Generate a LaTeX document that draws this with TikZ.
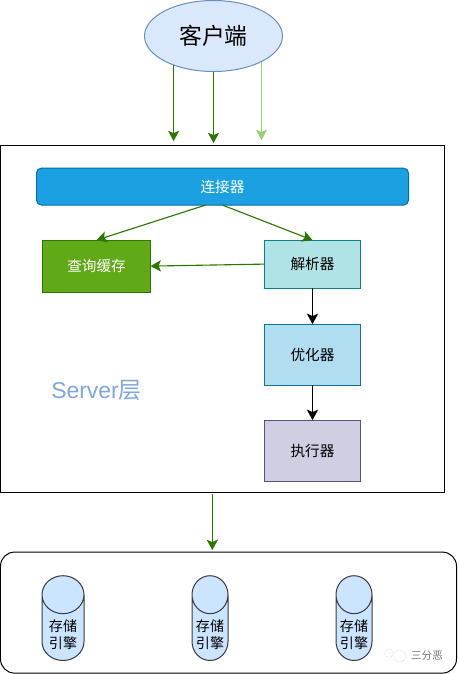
\documentclass[tikz,border=0pt]{standalone}
\usepackage{fontspec}
\setmainfont{Noto Sans CJK SC}
\newfontfamily\latinfont{Liberation Sans}
\usepackage{xcolor}
\usetikzlibrary{arrows.meta,positioning,calc,shapes.geometric}
\definecolor{srvgreen}{HTML}{2D7600}
\definecolor{srvgreenfill}{HTML}{60A917}
\definecolor{srvlightgreen}{HTML}{97D077}
\definecolor{srvblue}{HTML}{006EAF}
\definecolor{srvbluefill}{HTML}{1BA1E2}
\definecolor{srvteal}{HTML}{0E8088}
\definecolor{srvtealfill}{HTML}{B0E3E6}
\definecolor{srvsky}{HTML}{10739E}
\definecolor{srvskyfill}{HTML}{B1DDF0}
\definecolor{srvpurple}{HTML}{56517E}
\definecolor{srvpurplefill}{HTML}{D0CEE2}
\definecolor{clientline}{HTML}{6C8EBF}
\definecolor{clientfill}{HTML}{DAE8FC}
\definecolor{storeline}{HTML}{36393D}
\definecolor{storefill}{HTML}{CCE5FF}
\definecolor{layerblue}{HTML}{7EA6E0}
\newcommand{\storeline}[1]{\raisebox{-3.1mm}[0pt][0pt]{#1}}
\tikzset{
  procbox/.style={draw,line width=0.25mm,align=center,inner sep=0pt,outer sep=0pt,
                  font=\fontsize{10.4}{12}\selectfont},
  framebox/.style={draw=black,line width=0.25mm,inner sep=0pt,outer sep=0pt},
  clientnode/.style={ellipse,draw=clientline,fill=clientfill,line width=0.25mm,inner sep=0pt,outer sep=0pt,
                     minimum width=34.5mm,minimum height=17.75mm,font=\fontsize{16.2}{18}\selectfont},
  storenode/.style={cylinder,shape border rotate=90,aspect=1.35,draw=storeline,fill=storefill,
                    line width=0.25mm,inner sep=0pt,outer sep=0pt,minimum height=21.2mm,
                    align=center,font=\fontsize{10}{12.2}\selectfont},
  greenflow/.style={-{Stealth[length=2.6mm,width=2.8mm,inset=0.6mm]},line width=0.28mm,draw=srvgreen},
  paleflow/.style={-{Stealth[length=2.6mm,width=2.8mm,inset=0.6mm]},line width=0.28mm,draw=srvlightgreen},
  blackflow/.style={-{Stealth[length=2.6mm,width=2.8mm,inset=0.6mm]},line width=0.28mm,draw=black},
  markbubble/.style={circle,draw=black!28,densely dotted,line width=0.12mm,inner sep=0pt}
}
\begin{document}
\begin{tikzpicture}
    \useasboundingbox (0,0) rectangle (114.5mm,-168.5mm);

    \node[clientnode] (client) at (53.375mm,-9mm) {客户端};
    \node[framebox,below=18.4mm of client.south,xshift=2.25mm,minimum width=110.75mm,minimum height=86.75mm] (server) {};

    \node[procbox,below=5.75mm of server.north,draw=srvblue,fill=srvbluefill,text=white,rounded corners=1.25mm,minimum width=93mm,minimum height=9.25mm] (connector) {连接器};
    \node[procbox,below=8.75mm of connector.south,xshift=22.5mm,draw=srvteal,fill=srvtealfill,minimum width=24mm,minimum height=12mm] (parser) {解析器};
    \node[procbox,below=8.75mm of connector.south,xshift=-31.5mm,draw=srvgreen,fill=srvgreenfill,text=white,minimum width=27mm,minimum height=13mm] (cache) {查询缓存};
    \node[procbox,below=9mm of parser,draw=srvsky,fill=srvskyfill,minimum width=24mm,minimum height=15.25mm] (optimizer) {优化器};
    \node[procbox,below=8.75mm of optimizer,draw=srvpurple,fill=srvpurplefill,minimum width=24mm,minimum height=15.25mm] (executor) {执行器};
    \node[anchor=west,inner sep=0pt,text=layerblue,font=\fontsize{16.3}{18}\selectfont] (layer) at (12.75mm,-97.5mm) {{\latinfont Server}层};

    \node[framebox,below=15mm of server.south,xshift=1.5mm,rounded corners=3.5mm,minimum width=114mm,minimum height=30.25mm] (engine) {};
    \node[storenode,below=5.9mm of engine.north,xshift=-41.375mm,minimum width=10.5mm] (store1) {\storeline{存储}\\\storeline{引擎}};
    \node[storenode,below=5.9mm of engine.north,xshift=-4.625mm,minimum width=9mm] (store2) {\storeline{存储}\\\storeline{引擎}};
    \node[storenode,below=5.9mm of engine.north,xshift=31.375mm,minimum width=9mm] (store3) {\storeline{存储}\\\storeline{引擎}};

    \node[inner sep=0pt,text=black!55,font=\fontsize{7.5}{9}\selectfont] (mark) at (106.75mm,-164mm) {三分恶};
    \node[left=1.25mm of mark,markbubble,minimum size=3mm] (markbig) {};
    \node[left=0mm of markbig,yshift=0.75mm,markbubble,minimum size=2.2mm] (marksmall) {};

    \draw[greenflow] (client.216) -- ([yshift=1mm]client.216 |- server.north);
    \draw[greenflow] (client.south) -- ([yshift=0.5mm]client.south |- server.north);
    \draw[paleflow] (client.-28) -- ([yshift=1.25mm]client.-28 |- server.north);
    \draw[greenflow] ([xshift=-4.25mm]connector.south) -- (cache.north);
    \draw[greenflow] (connector.south) -- (parser.north);
    \draw[greenflow] (parser.west) -- (cache.east);
    \draw[blackflow] (parser) -- (optimizer);
    \draw[blackflow] (optimizer) -- (executor);
    \draw[greenflow] ([xshift=-0.3mm,yshift=-0.5mm]client.south |- server.south) -- ([xshift=-0.3mm,yshift=0.5mm]client.south |- engine.north);
\end{tikzpicture}
\end{document}
